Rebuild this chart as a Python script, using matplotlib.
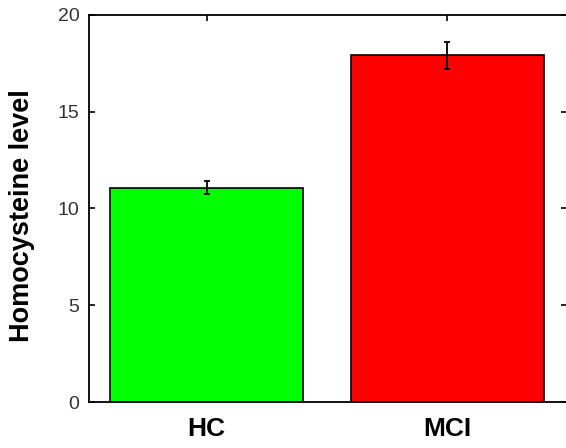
import numpy as np
import matplotlib
matplotlib.use("Agg")
import matplotlib.pyplot as plt

# --- data ---
groups = ["HC", "MCI"]
means = [11.07, 17.93]
errors = [0.33, 0.70]
bar_colors = ["#00ff00", "#ff0000"]
y_ticks = [0, 5, 10, 15, 20]

plt.rcParams["font.family"] = ["Liberation Sans", "DejaVu Sans"]

fig = plt.figure(figsize=(5.66, 4.48), dpi=100)
ax = fig.add_axes([89 / 566, 1 - 402 / 448, 478 / 566, 387 / 448])

pos = np.arange(1, len(groups) + 1)
ax.bar(pos, means, width=0.8, color=bar_colors, edgecolor="black", linewidth=1.2, zorder=2)
ax.errorbar(pos, means, yerr=errors, fmt="none", ecolor="black",
            elinewidth=1.3, capsize=2, capthick=1.3, zorder=3)

ax.set_xlim(0.512, 2.497)
ax.set_ylim(0, 20)
ax.set_yticks(y_ticks)
ax.set_xticks(pos)
ax.set_xticklabels(groups, fontsize=19, fontweight="bold")

ax.tick_params(axis="both", direction="in", top=True, right=True,
               length=4, width=1.2, color="black")
ax.tick_params(axis="x", pad=11)
ax.tick_params(axis="y", labelsize=14, labelcolor="#333333", pad=7)

for sp in ax.spines.values():
    sp.set_linewidth(1.3)
    sp.set_color("black")

fig.text(22.5 / 566, 1 - 215.5 / 448, "Homocysteine level", rotation=90,
         ha="center", va="center", fontsize=19.5, fontweight="bold")

fig.savefig("out.png", dpi=100)
